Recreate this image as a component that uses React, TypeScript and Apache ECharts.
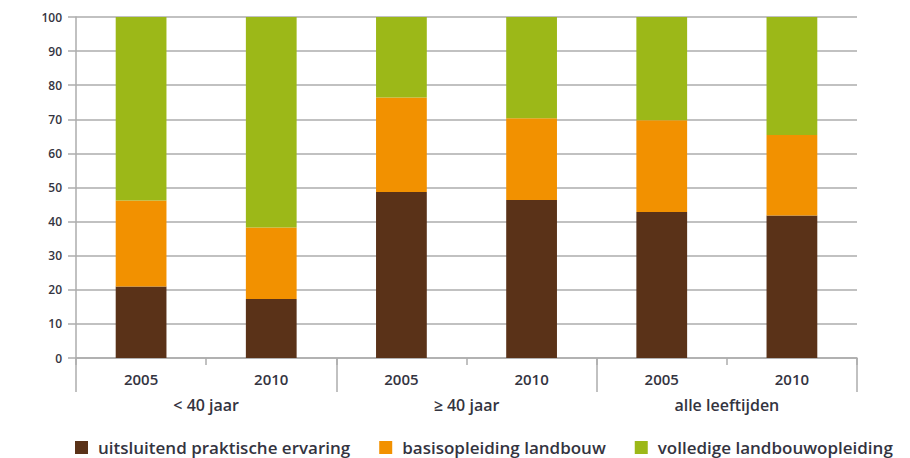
import React, { useEffect, useRef } from "react";
import * as echarts from "echarts";

const years = ["2005", "2010", "2005", "2010", "2005", "2010"];
const groups = ["< 40 jaar", "≥ 40 jaar", "alle leeftijden"];
const seriesNames = [
  "uitsluitend praktische ervaring",
  "basisopleiding landbouw",
  "volledige landbouwopleiding",
];
const praktisch = [21, 17.3, 48.7, 46.3, 42.8, 41.8];
const basis = [25.2, 21, 27.7, 24, 26.9, 23.6];
const volledig = [53.8, 61.7, 23.6, 29.7, 30.3, 34.6];
const colors = ["#5a3218", "#f29100", "#9cb818"];

const FONT = "'Open Sans', sans-serif";
const TXT = "#34343f";
const GRID = "#acacac";

export default function App() {
  const ref = useRef<HTMLDivElement>(null);
  useEffect(() => {
    document.body.style.margin = "0";
    const chart = echarts.init(ref.current!, null, { renderer: "svg" });
    const values = [praktisch, basis, volledig];
    chart.setOption({
      animation: false,
      textStyle: { fontFamily: FONT, color: TXT },
      grid: { left: 76, right: 53, top: 17, bottom: 100, containLabel: false },
      legend: {
        left: 70,
        top: 434,
        icon: "rect",
        itemWidth: 13,
        itemHeight: 13,
        itemGap: 29,
        textStyle: { fontFamily: FONT, fontSize: 17, fontWeight: 600, color: TXT, padding: [0, 0, 0, 5] },
        data: seriesNames,
      },
      xAxis: [
        {
          type: "category",
          data: years,
          position: "bottom",
          axisLine: { lineStyle: { color: GRID, width: 1.5 } },
          axisTick: { show: true, interval: 0, length: 7, lineStyle: { color: GRID, width: 1.5 } },
          axisLabel: { margin: 13, fontSize: 15, fontWeight: 600, color: TXT, fontFamily: FONT },
        },
        {
          type: "category",
          data: groups,
          position: "bottom",
          axisLine: { show: false },
          axisTick: { show: true, interval: 0, length: 34, lineStyle: { color: GRID, width: 1.5 } },
          axisLabel: { margin: 39, fontSize: 16, fontWeight: 600, color: TXT, fontFamily: FONT },
        },
      ],
      yAxis: {
        type: "value",
        min: 0,
        max: 100,
        interval: 10,
        axisLine: { show: true, lineStyle: { color: GRID, width: 1.5 } },
        axisTick: { show: true, length: 8, lineStyle: { color: GRID, width: 1.5 } },
        splitLine: { lineStyle: { color: GRID, width: 1.5 } },
        axisLabel: { margin: 14, fontSize: 12, fontWeight: 600, color: TXT, fontFamily: FONT },
      },
      series: seriesNames.map((name, i) => ({
        name,
        type: "bar",
        stack: "total",
        xAxisIndex: 0,
        barWidth: "39%",
        itemStyle: { color: colors[i] },
        data: values[i],
      })),
    });
    return () => chart.dispose();
  }, []);
  return <div ref={ref} style={{ width: 910, height: 458 }} />;
}
